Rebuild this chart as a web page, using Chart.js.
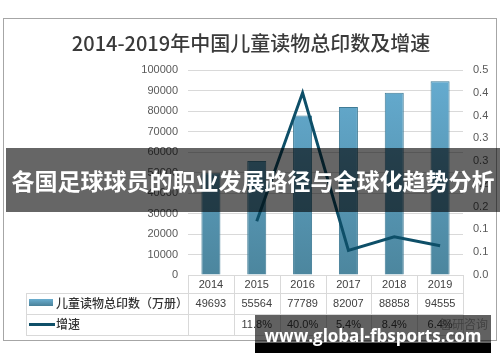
<!DOCTYPE html>
<html lang="zh">
  <head>
    <meta charset="UTF-8" />
    <title>2014-2019年中国儿童读物总印数及增速</title>
    <script src="https://cdn.jsdelivr.net/npm/chart.js"></script>
    <style>
      body { margin: 0; background: #fff; }
      #wrap { position: relative; width: 500px; height: 362px; overflow: hidden; }
      #banner {
        position: absolute; left: 6px; top: 148px; width: 494px; height: 64px;
        background: rgba(0, 0, 0, 0.6); color: #fff;
        font: bold 23px "Noto Sans CJK SC", sans-serif;
        display: flex; align-items: center; justify-content: center; white-space: nowrap;
      }
      #mark {
        position: absolute; left: 255px; top: 315px; width: 236px; height: 38px;
        background: linear-gradient(to bottom, rgba(0,0,0,0.62) 0, rgba(0,0,0,0.62) 74%, #000 74%);
        color: #fff; font: bold 17px "Open Sans", sans-serif;
        display: flex; align-items: center; justify-content: center; white-space: nowrap;
        padding-top: 2px; box-sizing: border-box;
      }
    </style>
  </head>
  <body>
    <div id="wrap">
      <canvas id="myChart" width="500" height="362"></canvas>
      <div id="banner">各国足球球员的职业发展路径与全球化趋势分析</div>
      <div id="mark">www.global-fbsports.com</div>
    </div>
    <script>
      const titleText = "2014-2019年中国儿童读物总印数及增速";
      const years = ["2014", "2015", "2016", "2017", "2018", "2019"];
      const printCounts = [49693, 55564, 77789, 82007, 88858, 94555];
      const growthRates = [null, 0.118, 0.4, 0.054, 0.084, 0.064];
      const seriesNames = ["儿童读物总印数（万册）", "增速"];
      const rightTickLabels = ["0.0", "0.1", "0.1", "0.2", "0.2", "0.3", "0.3", "0.4", "0.4", "0.5"];

      const cjk = '"Noto Sans CJK SC", sans-serif';
      const num = '"Liberation Sans", Arial, sans-serif';

      function barFill(context) {
        const chart = context.chart;
        const area = chart.chartArea;
        if (!area) return "#5a9fc0";
        const g = chart.ctx.createLinearGradient(0, area.top, 0, area.bottom);
        g.addColorStop(0, "#66add2");
        g.addColorStop(1, "#4c869e");
        return g;
      }

      // frame, title and the data table under the plot
      const tablePlugin = {
        id: "dataTable",
        afterDraw(chart) {
          const { ctx, chartArea, scales } = chart;
          const x = scales.x;
          const half = (chartArea.right - chartArea.left) / years.length / 2;
          const top = chartArea.bottom;
          const rows = [top, top + 18, top + 39, top + 60];
          const leftEdge = 26;

          ctx.save();
          ctx.strokeStyle = "#a6a6a6";
          ctx.lineWidth = 1;
          ctx.strokeRect(3.5, 18.5, 493, 322);

          ctx.fillStyle = "#3a3a3a";
          ctx.font = "500 20px " + cjk;
          ctx.textAlign = "center";
          ctx.textBaseline = "middle";
          ctx.fillText(titleText, 251, 43);

          ctx.strokeStyle = "#d9d9d9";
          ctx.beginPath();
          ctx.moveTo(chartArea.left, rows[0] + 0.5);
          ctx.lineTo(chartArea.right, rows[0] + 0.5);
          for (let r = 1; r < rows.length; r++) {
            ctx.moveTo(leftEdge, rows[r] + 0.5);
            ctx.lineTo(chartArea.right, rows[r] + 0.5);
          }
          ctx.moveTo(leftEdge + 0.5, rows[1]);
          ctx.lineTo(leftEdge + 0.5, rows[3]);
          for (let i = 0; i <= years.length; i++) {
            const px = Math.round(i < years.length ? x.getPixelForValue(i) - half : x.getPixelForValue(i - 1) + half) + 0.5;
            ctx.moveTo(px, rows[0]);
            ctx.lineTo(px, rows[3]);
          }
          ctx.stroke();

          ctx.fillStyle = "#404040";
          ctx.font = "11px " + num;
          years.forEach((y, i) => {
            const cx = x.getPixelForValue(i);
            ctx.fillText(y, cx, (rows[0] + rows[1]) / 2 + 1);
            ctx.fillText(String(printCounts[i]), cx, (rows[1] + rows[2]) / 2);
            if (growthRates[i] !== null) {
              ctx.fillText((growthRates[i] * 100).toFixed(1) + "%", cx, (rows[2] + rows[3]) / 2);
            }
          });

          // legend keys
          const g = ctx.createLinearGradient(0, rows[1] + 6, 0, rows[1] + 13);
          g.addColorStop(0, "#6aaed0");
          g.addColorStop(1, "#4a8199");
          ctx.fillStyle = g;
          ctx.fillRect(29, rows[1] + 6, 24, 7);
          ctx.strokeStyle = "#0e4f68";
          ctx.lineWidth = 3;
          ctx.beginPath();
          ctx.moveTo(29, (rows[2] + rows[3]) / 2);
          ctx.lineTo(55, (rows[2] + rows[3]) / 2);
          ctx.stroke();

          ctx.fillStyle = "#333";
          ctx.font = "500 12px " + cjk;
          ctx.textAlign = "left";
          ctx.fillText(seriesNames[0], 56, (rows[1] + rows[2]) / 2);
          ctx.fillText(seriesNames[1], 56, (rows[2] + rows[3]) / 2);

          ctx.fillStyle = "rgba(150,150,150,0.8)";
          ctx.font = "12px " + cjk;
          ctx.fillText("智研咨询", 440, 324);
          ctx.restore();
        },
      };

      const ctx = document.getElementById("myChart");
      new Chart(ctx, {
        data: {
          labels: years,
          datasets: [
            {
              type: "line",
              label: seriesNames[1],
              data: growthRates,
              yAxisID: "y1",
              borderColor: "#0e4f68",
              borderWidth: 3,
              pointRadius: 0,
              tension: 0,
              order: 0,
            },
            {
              type: "bar",
              label: seriesNames[0],
              data: printCounts,
              yAxisID: "y",
              backgroundColor: barFill,
              borderColor: "#3f7b95",
              borderWidth: 1,
              barPercentage: 0.415,
              categoryPercentage: 1,
              order: 1,
            },
          ],
        },
        options: {
          responsive: false,
          animation: false,
          devicePixelRatio: 1,
          layout: { padding: { left: 0, right: 0, top: 70, bottom: 87 } },
          plugins: {
            legend: { display: false },
            tooltip: { enabled: false },
            title: { display: false },
          },
          scales: {
            x: { display: false },
            y: {
              position: "left",
              min: 0,
              max: 100000,
              afterFit: (s) => { s.width = 188; },
              ticks: {
                stepSize: 10000,
                padding: 10,
                color: "#595959",
                font: { size: 11, family: num },
                callback: (v) => String(v),
              },
              grid: { color: "#d9d9d9", drawTicks: false },
              border: { display: false },
            },
            y1: {
              position: "right",
              min: 0,
              max: 0.45,
              afterFit: (s) => { s.width = 37; },
              ticks: {
                stepSize: 0.05,
                padding: 10,
                color: "#595959",
                font: { size: 11, family: num },
                callback: (v, i) => rightTickLabels[i],
              },
              grid: { display: false, drawTicks: false },
              border: { display: false },
            },
          },
        },
        plugins: [tablePlugin],
      });
    </script>
  </body>
</html>
